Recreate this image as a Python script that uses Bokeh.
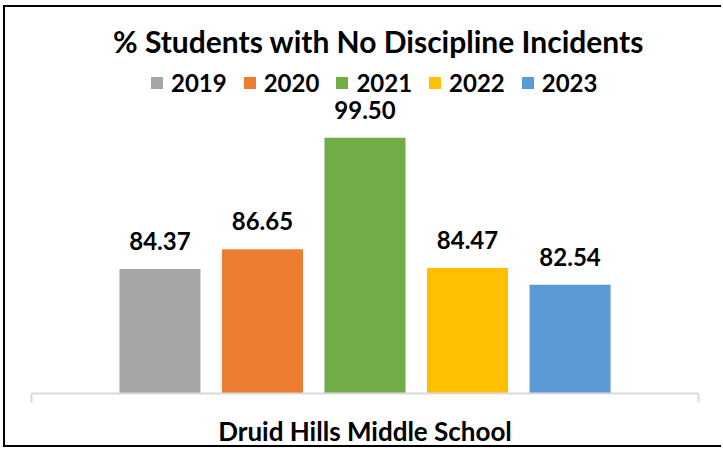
from bokeh.plotting import figure
from bokeh.models import (ColumnDataSource, Range1d, LinearAxis, FixedTicker,
                          LabelSet, Label)
from bokeh.transform import dodge
from bokeh.core.properties import value
from bokeh.embed import file_html
from bokeh.resources import INLINE

title = "% Students with No Discipline Incidents"
categories = ["Druid Hills Middle School"]
years = ["2019", "2020", "2021", "2022", "2023"]
values = [84.37, 86.65, 99.50, 84.47, 82.54]
colors = ["#A5A5A5", "#ED7D31", "#70AD47", "#FFC000", "#5B9BD5"]

FONT = "Lato"
n = len(categories)

p = figure(width=718, height=442, output_backend="svg", toolbar_location=None,
           x_range=Range1d(0, n), y_range=Range1d(70, 114.53),
           x_axis_location=None, y_axis_location=None,
           min_border_left=26, min_border_right=25, min_border_top=0, min_border_bottom=51)
p.outline_line_color = None
p.grid.visible = False
p.styles = {"border-left": "2px solid black", "border-top": "2px solid black",
            "border-bottom": "2px solid black", "margin-left": "3px", "margin-top": "5px"}

centers = [k + 0.5 for k in range(n)]
step = 0.1537
for i, (yr, v, c) in enumerate(zip(years, values, colors)):
    off = (i - 2) * step
    src = ColumnDataSource(dict(cx=centers, value=[v], label=[f"{v:.2f}"]))
    p.vbar(x=dodge("cx", off), top="value", bottom=70, width=0.1215,
           source=src, fill_color=c, line_color=None, legend_label=yr)
    p.add_layout(LabelSet(x=dodge("cx", off), y="value", text="label",
                          source=src, y_offset=19, text_align="center",
                          text_baseline="alphabetic", text_font=value(FONT),
                          text_font_style="bold", text_font_size="24px", text_color="black"))

ax = LinearAxis(ticker=FixedTicker(ticks=list(range(n + 1))),
                major_tick_in=0, major_tick_out=9,
                axis_line_color="#D9D9D9", axis_line_width=2,
                major_tick_line_color="#D9D9D9", major_tick_line_width=2,
                minor_tick_line_color=None,
                major_label_overrides={k: "" for k in range(n + 1)},
                major_label_text_font_size="1px", major_label_standoff=0,
                axis_label=categories[0], axis_label_text_font=FONT,
                axis_label_text_font_style="bold", axis_label_text_font_size="26px",
                axis_label_text_color="black", axis_label_standoff=12)
p.add_layout(ax, "below")

p.add_layout(Label(x=347, y=353, x_units="screen", y_units="screen", text=title,
                   text_align="center", text_baseline="alphabetic", text_font=FONT,
                   text_font_style="bold", text_font_size="30px", text_color="black"))

lg = p.legend[0]
lg.orientation = "horizontal"
lg.location = (118, 296)
lg.glyph_width = 15
lg.glyph_height = 15
lg.label_standoff = 7
lg.spacing = 15
lg.padding = 0
lg.margin = 0
lg.border_line_color = None
lg.background_fill_alpha = 0
lg.label_text_font = FONT
lg.label_text_font_style = "bold"
lg.label_text_font_size = "24px"
lg.label_text_color = "black"

open("out.html", "w").write(file_html(p, INLINE))
